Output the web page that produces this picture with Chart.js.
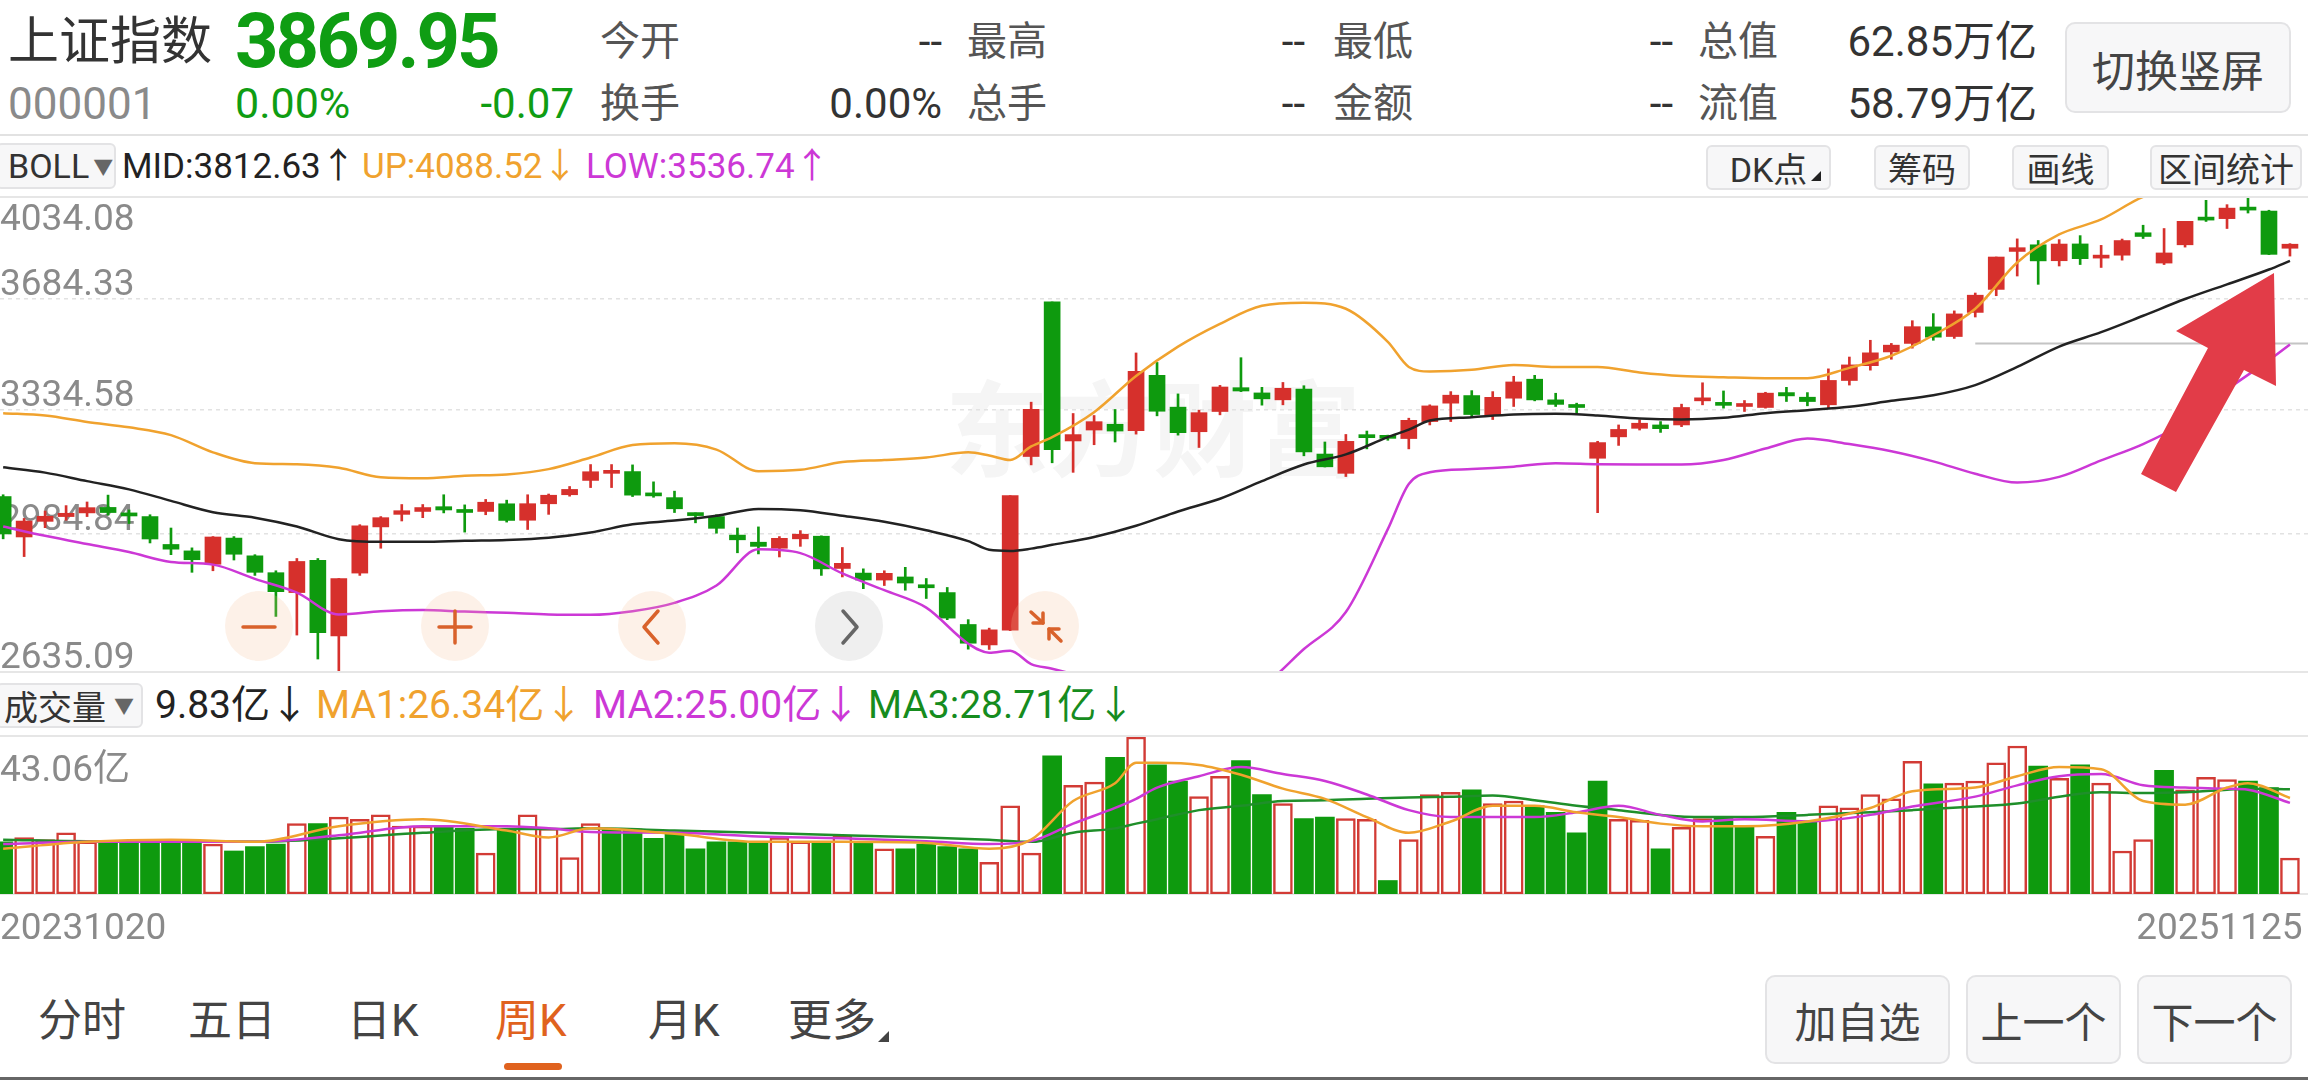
<!DOCTYPE html>
<html>
<head>
<meta charset="utf-8">
<script src="https://cdn.jsdelivr.net/npm/chart.js@4.4.1/dist/chart.umd.min.js"></script>
<style>
html,body{margin:0;padding:0;background:#fff;}
body{width:2308px;height:1080px;position:relative;overflow:hidden;
  font-family:Roboto,"Noto Sans CJK SC",sans-serif;color:#333;}
.t{position:absolute;white-space:nowrap;line-height:1;}
.lab{font-size:40px;color:#555;}
.val{font-size:42px;color:#333;}
.g{color:#0f9d13;}
.line{position:absolute;left:0;width:2308px;}
.btn{position:absolute;box-sizing:border-box;display:flex;align-items:center;justify-content:center;
  background:#f7f7f8;border:2px solid #e3e3e5;border-radius:8px;color:#333;white-space:nowrap;}
.tab{position:absolute;top:999px;font-size:44px;line-height:1;color:#444;white-space:nowrap;}
canvas{position:absolute;left:0;}
</style>
</head>
<body>

<!-- HEADER -->
<div class="t" style="left:8px;top:16px;font-size:51px;color:#333;">上证指数</div>
<div class="t g" style="left:235px;top:3px;font-size:76px;font-weight:bold;letter-spacing:-3px;">3869.95</div>

<div class="t lab" style="left:600px;top:22px;">今开</div>
<div class="t val" style="right:1366px;top:21px;">--</div>
<div class="t lab" style="left:967px;top:22px;">最高</div>
<div class="t val" style="right:1003px;top:21px;">--</div>
<div class="t lab" style="left:1333px;top:22px;">最低</div>
<div class="t val" style="right:635px;top:21px;">--</div>
<div class="t lab" style="left:1698px;top:22px;">总值</div>
<div class="t val" style="right:271px;top:21px;">62.85万亿</div>

<div class="t" style="left:8px;top:82px;font-size:44px;color:#8a8a8a;">000001</div>
<div class="t g" style="left:235px;top:82px;font-size:43px;">0.00%</div>
<div class="t g" style="right:1734px;top:83px;font-size:42px;">-0.07</div>
<div class="t lab" style="left:600px;top:84px;">换手</div>
<div class="t val" style="right:1366px;top:83px;">0.00%</div>
<div class="t lab" style="left:967px;top:84px;">总手</div>
<div class="t val" style="right:1003px;top:83px;">--</div>
<div class="t lab" style="left:1333px;top:84px;">金额</div>
<div class="t val" style="right:635px;top:83px;">--</div>
<div class="t lab" style="left:1698px;top:84px;">流值</div>
<div class="t val" style="right:271px;top:83px;">58.79万亿</div>

<div class="btn" style="left:2065px;top:22px;width:226px;height:91px;font-size:43px;color:#444;border-radius:10px;">切换竖屏</div>

<div class="line" style="top:134px;height:2px;background:#e2e2e2;"></div>

<!-- BOLL ROW -->
<div class="btn" style="left:-4px;top:143px;width:120px;height:46px;justify-content:flex-start;padding-left:10px;font-size:34px;border-radius:6px;">BOLL<span style="font-size:20px;color:#666;margin-left:4px;">▼</span></div>
<div class="t" style="left:122px;top:149px;font-size:35px;color:#222;">MID:3812.63↑</div>
<div class="t" style="left:362px;top:149px;font-size:35px;color:#f0a22e;">UP:4088.52↓</div>
<div class="t" style="left:586px;top:149px;font-size:35px;color:#cc38d6;">LOW:3536.74↑</div>

<div class="btn" style="left:1706px;top:145px;width:125px;height:45px;font-size:34px;border-radius:6px;">DK点
  <span style="position:absolute;right:8px;bottom:7px;width:0;height:0;border-left:10px solid transparent;border-bottom:10px solid #222;"></span></div>
<div class="btn" style="left:1874px;top:145px;width:96px;height:45px;font-size:34px;border-radius:6px;">筹码</div>
<div class="btn" style="left:2012px;top:145px;width:97px;height:45px;font-size:34px;border-radius:6px;">画线</div>
<div class="btn" style="left:2150px;top:145px;width:152px;height:45px;font-size:34px;border-radius:6px;">区间统计</div>

<div class="line" style="top:196px;height:2px;background:#e6e6e6;"></div>

<!-- WATERMARK -->
<div class="t" style="left:945px;top:382px;font-size:104px;font-weight:bold;color:#f5f5f5;">东方财富</div>

<canvas id="kline" width="2308" height="474" style="top:198px;"></canvas>
<div class="line" style="top:671px;height:2px;background:#e6e6e6;"></div>

<!-- VOLUME ROW -->
<div class="btn" style="left:-4px;top:683px;width:147px;height:45px;justify-content:flex-start;padding-left:6px;font-size:34px;border-radius:6px;">成交量<span style="font-size:20px;color:#666;margin-left:8px;">▼</span></div>
<div class="t" style="left:155px;top:686px;font-size:39px;color:#222;">9.83亿↓</div>
<div class="t" style="left:316px;top:686px;font-size:39px;color:#f0a22e;">MA1:26.34亿↓</div>
<div class="t" style="left:593px;top:686px;font-size:39px;color:#cc38d6;">MA2:25.00亿↓</div>
<div class="t" style="left:868px;top:686px;font-size:39px;color:#168c1e;">MA3:28.71亿↓</div>

<div class="line" style="top:735px;height:2px;background:#e6e6e6;"></div>
<canvas id="vol" width="2308" height="213" style="top:737px;"></canvas>

<!-- BOTTOM TABS -->
<div class="tab" style="left:38px;">分时</div>
<div class="tab" style="left:188px;">五日</div>
<div class="tab" style="left:347px;">日K</div>
<div class="tab" style="left:495px;color:#e0621e;">周K</div>
<div style="position:absolute;left:504px;top:1063px;width:58px;height:7px;border-radius:4px;background:#e0621e;"></div>
<div class="tab" style="left:648px;">月K</div>
<div class="tab" style="left:788px;">更多</div>
<div style="position:absolute;left:878px;top:1031px;width:0;height:0;border-left:11px solid transparent;border-bottom:11px solid #444;"></div>

<div class="btn" style="left:1765px;top:975px;width:185px;height:89px;font-size:42px;color:#444;border-radius:10px;">加自选</div>
<div class="btn" style="left:1966px;top:975px;width:155px;height:89px;font-size:42px;color:#444;border-radius:10px;">上一个</div>
<div class="btn" style="left:2137px;top:975px;width:155px;height:89px;font-size:42px;color:#444;border-radius:10px;">下一个</div>

<div class="line" style="top:1077px;height:3px;background:#666;"></div>

<!-- OVERLAY: ZOOM BUTTONS AND RED ARROW -->
<svg width="2308" height="1080" style="position:absolute;left:0;top:0;pointer-events:none;">
  <g fill="rgba(248,190,150,0.22)">
    <ellipse cx="259" cy="626" rx="34" ry="35"/>
    <ellipse cx="455" cy="626" rx="34" ry="35"/>
    <ellipse cx="652" cy="626" rx="34" ry="35"/>
    <ellipse cx="1045" cy="626" rx="34" ry="35"/>
  </g>
  <ellipse cx="849" cy="626" rx="34" ry="35" fill="rgba(190,190,190,0.25)"/>
  <g stroke="#d9622b" stroke-width="3.5" fill="none" stroke-linecap="round" stroke-linejoin="round">
    <line x1="243" y1="627" x2="275" y2="627"/>
    <line x1="439" y1="627" x2="471" y2="627"/>
    <line x1="455" y1="611" x2="455" y2="643"/>
    <polyline points="658,611 644,627 658,643"/>
    <line x1="1031" y1="612" x2="1043" y2="623"/>
    <polyline points="1033,623 1043,623 1043,613"/>
    <line x1="1061" y1="641" x2="1049" y2="629"/>
    <polyline points="1059,629 1049,629 1049,639"/>
  </g>
  <polyline points="843,611 857,627 843,643" stroke="#666" stroke-width="3.5" fill="none" stroke-linecap="round" stroke-linejoin="round"/>
  <polygon points="2274,273 2176,331 2208,348 2141,474 2176,492 2244,370 2276,386" fill="#e23c48"/>
</svg>

<script>

/* DATA */

const dateFirst = "20231020";
const dateLast = "20251125";

const priceTop = 4034.08;
const priceBottom = 2635.09;
const priceTicks = [3684.33, 3334.58, 2984.84, 2635.09];

const opens = [
3085,2975,3017,3030,3040,3055,3040,3030,2955,2938,
2903,2972,2925,2881,2830,2913,2722,2880,3002,3036,
3044,3057,3045,3044,3065,3020,3065,3090,3130,3150,
3155,3090,3082,3035,3030,2980,2961,2945,2970,2977,
2892,2880,2862,2870,2850,2830,2750,2700,2736,3198,
3674.40,3243,3275,3292,3273,3440,3343,3270,3330,3402,
3386,3365,3398,3205,3150,3256,3255,3250,3300,3355,
3378,3320,3370,3428,3365,3345,3193,3255,3280,3290,
3290,3362,3356,3345,3342,3387,3373,3350,3424,3470,
3513,3540,3593,3562,3640,3716,3845,3868,3813,3871,
3822,3832,3910,3805,3868,3958,3960,3995,3987,3856
];

const highs = [
3090,3025,3045,3060,3070,3089,3048,3035,2999,2946,
2976,2976,2928,2886,2918,2918,2866,3008,3030,3063,
3063,3090,3062,3077,3075,3090,3092,3113,3175,3175,
3174,3126,3100,3040,3035,2999,3002,2976,2992,2978,
2947,2891,2886,2895,2866,2843,2762,2741,3087.53,3358,
3674.40,3324,3318,3336,3509.82,3480,3383,3334,3409,3494.87,
3403,3418,3408,3240,3262,3272,3260,3310,3350,3390,
3393,3390,3437,3440,3385,3355,3242,3290,3305,3300,
3352,3417,3392,3363,3388,3403,3387,3460,3497,3550,
3540,3613,3636,3645,3704,3825.76,3888.6,3883,3886,3899.96,
3866,3888,3936.58,3925,3950.31,4025.70,4010,4034.08,3990,3872
];

const lows = [
2970,2923,3000,3020,3030,3034,3011,2959,2928,2882,
2886,2914,2874,2770,2724,2666,2635.09,2874,2945,3018,
3027,3040,2988,3035,3015,2995,3036,3086,3110,3110,
3085,3083,3041,3013,2985,2933,2930,2922,2950,2874,
2870,2840,2848,2836,2815,2762,2689.7,2689,2735,3174,
3180,3152.82,3232,3240,3263,3317,3260,3224,3320,3390,
3349,3350,3200,3168,3140.98,3220,3245,3220,3290,3300,
3315,3306,3345,3362,3345,3322,3040.69,3230,3275,3268,
3285,3350,3340,3330,3340,3360,3347,3340,3410,3456,
3490,3525,3550,3556,3625,3695,3761,3733,3795,3800,
3790,3815,3890,3800,3860,3950,3925,3980,3834,3829
];

const closes = [
2983.06,3017.78,3030.80,3038.97,3054.37,3040.97,3031.64,2969.56,2942.56,2914.78,
2974.93,2929.18,2881.98,2832.28,2910.22,2730.15,2865.90,3004.88,3027.02,3046.02,
3054.64,3048.03,3041.17,3069.30,3019.47,3065.26,3088.64,3104.82,3154.55,3154.03,
3088.87,3086.81,3051.28,3032.63,2998.14,2967.40,2949.93,2971.30,2982.31,2890.90,
2905.34,2862.19,2879.43,2854.37,2842.21,2765.81,2704.09,2736.81,3087.53,3336.50,
3217.74,3261.56,3299.70,3272.01,3452.30,3330.73,3267.19,3326.46,3404.08,3391.88,
3368.07,3400.14,3211.43,3168.52,3241.82,3252.63,3250.60,3303.67,3346.72,3379.11,
3320.90,3372.55,3419.56,3364.83,3351.31,3342.01,3238.23,3276.73,3295.06,3279.03,
3342.00,3367.46,3348.37,3347.49,3385.36,3377.00,3359.90,3424.23,3472.32,3510.18,
3534.48,3593.66,3559.95,3635.13,3696.77,3825.76,3857.93,3812.51,3870.60,3820.09,
3828.11,3882.78,3897.03,3839.76,3950.31,3954.79,3997.56,3990.49,3834.89,3870.02
];

/* BOLL at these weeks */
const bollIdx = [
0,2,4,6,8,10,12,14,16,18,20,22,24,26,28,30,32,34,36,38,40,42,44,46,
47,48,49,50,52,54,56,58,60,62,64,66,67,
68,70,72,74,76,78,80,82,84,86,88,90,92,94,96,98,100,102,104,106,108,109
];
const bollUp = [
3325,3318,3299,3283,3260,3210,3179,3176,3166,3139,3136,3143,3147,3162,3195,3231,3236,3218,3156,3160,3182,3188,3195,3210,
3201,3188,3227,3254,3328,3438,3530,3603,3662,3672,3652,3545,3466,
3452,3457,3472,3466,3466,3449,3438,3434,3431,3431,3463,3501,3566,3652,3807,3904,3957,4038,4080,4110,4100,4088.52
];
const bollMid = [
3167,3152,3128,3105,3073,3042,3027,3003,2969,2962,2962,2965,2967,2973,2987,3009,3019,3032,3051,3047,3032,3016,2993,2964,
2941,2938,2944,2954,2975,3005,3044,3079,3128,3175,3204,3254,3276,
3303,3313,3321,3323,3318,3309,3306,3311,3325,3334,3344,3362,3379,3410,3466,3530,3576,3629,3684,3733,3783,3812.63
];
const bollLow = [
3003,2978,2956,2935,2909,2902,2865,2830,2775,2783,2786,2782,2779,2775,2774,2783,2804,2848,2942,2932,2879,2836,2792,2703,
2681,2686,2654,2643,2616,2584,2558,2556,2600,2690,2781,2996,3120,
3153,3162,3169,3179,3176,3175,3175,3188,3221,3250,3234,3213,3184,3149,3124,3140,3187,3234,3298,3396,3487,3536.74
];

/* USER DRAWN HORIZONTAL LINE */
const drawnIdx = [94, 110];
const drawnVal = [3540, 3540];

/* VOLUME (亿) */
const volTop = 43.06;
const volumes = [
14.3,15.5,14.9,16.8,14.3,14.6,14.0,14.3,14.3,14.6,
13.7,11.8,13.0,13.7,19.3,19.3,21.1,20.5,21.7,18.6,
18.6,18.6,18.0,11.2,18.0,21.7,18.0,10.0,19.3,18.0,
17.8,15.3,17.0,12.4,14.3,14.3,14.3,15.5,14.3,14.3,
16.1,14.3,12.4,12.4,13.7,13.0,12.4,8.7,24.2,11.2,
37.9,29.8,30.7,37.5,43.06,35.4,31.0,26.7,32.3,36.6,
27.3,24.8,20.7,21.1,20.7,20.5,3.7,14.9,27.3,27.9,
28.6,24.8,25.5,24.2,22.4,16.8,31.0,20.5,20.2,12.4,
18.3,20.7,21.1,18.3,15.8,22.4,19.9,24.2,23.6,27.3,
26.1,36.4,30.2,30.4,31.0,36.0,40.6,35.1,31.7,35.4,
30.4,11.8,14.9,33.9,28.6,32.0,31.4,31.0,29.2,9.83
];
const volUp = [
0,1,1,1,1,0,0,0,0,0, 1,0,0,0,1,0,1,1,1,1,
1,0,0,1,0,1,1,1,1,0, 0,0,0,0,0,0,0,1,1,0,
1,0,1,0,0,0,0,1,1,1, 0,1,1,0,1,0,0,1,1,0,
0,1,0,0,1,1,0,1,1,1, 0,1,1,0,0,0,0,1,1,0,
1,1,0,0,1,0,0,1,1,1, 1,1,0,1,1,1,1,0,1,0,
1,1,1,0,1,1,1,0,0,1
];

/* VOLUME MA */
const maIdx = [0,4,8,12,16,20,24,26,28,32,36,40,44,47,49,51,53,54,55,57,59,61,63,65,67,69,71,73,75,77,79,81,83,86,89,91,94,96,98,100,102,104,106,107,109];
const ma1 = [12.4,14.3,14.9,14.3,18.6,20.5,17.4,15.5,18.0,16.5,14.3,14.3,14.0,12.4,14.9,25.5,30.4,36.0,36.0,35.4,32.7,28.9,26.1,21.1,16.8,19.9,24.2,24.2,22.4,21.1,19.3,18.6,18.6,19.9,23.6,28.2,29.2,32.3,34.8,34.2,25.5,24.5,29.2,30.4,26.34];
const ma2 = [13.7,14.3,14.3,14.3,16.1,18.6,18.6,18.0,17.0,16.8,15.8,15.3,14.5,13.7,14.5,19.3,23.6,26.1,29.2,32.3,34.8,32.9,31.0,27.3,23.0,21.1,21.1,21.1,22.4,24.2,21.7,19.9,20.5,19.9,21.7,24.0,26.7,29.8,32.3,32.9,29.8,29.2,28.9,28.6,25.00];
const ma3 = [14.9,14.5,14.5,14.3,15.3,16.8,17.8,17.8,18.0,17.4,16.8,16.1,15.5,14.9,14.3,16.8,18.0,19.3,20.5,23.0,24.2,25.5,25.7,26.1,26.5,26.7,27.0,25.7,24.2,23.0,21.7,21.1,21.1,21.7,22.4,23.0,24.0,24.8,26.7,27.9,27.7,27.9,28.6,28.9,28.71];

/* STYLE */

const RED = "#d6302c";
const GREEN = "#0e9a0e";
const ORANGE = "#f0a22e";
const MAGENTA = "#cc38d6";
const xMin = -0.15;
const xMax = 109.86;

Chart.defaults.font.family = "Roboto";

function pts(idx, vals){
    return vals.map((v, k) => ({x: idx[k], y: v}));
}

function lineSet(data, color, order){
    return {
        type: "line",
        data: data,
        borderColor: color,
        borderWidth: 2.5,
        pointRadius: 0,
        cubicInterpolationMode: "monotone",
        order: order
    };
}

/* axes sit inside the plot: no width, no label padding */
function flatY(s){
    s.width = 0;
    s.paddingTop = 0;
    s.paddingBottom = 0;
}

function flatX(s){
    s.paddingLeft = 0;
    s.paddingRight = 0;
}

const priceFont = { family: "Roboto", size: 37 };
const candleColors = opens.map((o, i) => closes[i] >= o ? RED : GREEN);

/* K LINE */

new Chart(document.getElementById("kline"), {
    type: "bar",
    data: {
        datasets: [
            lineSet(pts(bollIdx, bollUp), ORANGE, 0),
            lineSet(pts(bollIdx, bollMid), "#222222", 0),
            lineSet(pts(bollIdx, bollLow), MAGENTA, 0),
            {
                type: "line",
                data: pts(drawnIdx, drawnVal),
                borderColor: "#c4c4c4",
                borderWidth: 2,
                pointRadius: 0,
                order: 3
            },
            {
                data: opens.map((o, i) => ({x: i, y: [o, closes[i]]})),
                backgroundColor: candleColors,
                barThickness: 16,
                minBarLength: 3,
                grouped: false,
                order: 1
            },
            {
                data: lows.map((l, i) => ({x: i, y: [l, highs[i]]})),
                backgroundColor: candleColors,
                barThickness: 2,
                grouped: false,
                order: 2
            }
        ]
    },
    options: {
        responsive: false,
        animation: false,
        devicePixelRatio: 1,
        layout: { padding: 0 },
        plugins: {
            legend: { display: false },
            tooltip: { enabled: false }
        },
        scales: {
            x: { type: "linear", min: xMin, max: xMax, offset: false, display: false },
            y: {
                type: "logarithmic",
                position: "left",
                min: priceBottom,
                max: priceTop,
                afterBuildTicks: s => { s.ticks = priceTicks.map(v => ({value: v})); },
                afterFit: flatY,
                grid: {
                    color: ctx => ctx.tick && ctx.tick.value < 2700 ? "rgba(0,0,0,0)" : "#e2e2e2",
                    lineWidth: 1.5,
                    drawTicks: false,
                    borderDash: [4, 4]
                },
                border: { display: false, dash: [4, 4] },
                ticks: {
                    mirror: true,
                    padding: 0,
                    autoSkip: false,
                    labelOffset: -13,
                    color: "#8a8a8a",
                    font: priceFont,
                    callback: v => Number(v).toFixed(2)
                }
            },
            y2: {
                type: "logarithmic",
                position: "left",
                min: priceBottom,
                max: priceTop,
                afterBuildTicks: s => { s.ticks = [{value: priceTop}]; },
                afterFit: flatY,
                grid: { display: false, drawTicks: false },
                border: { display: false },
                ticks: {
                    mirror: true,
                    padding: 0,
                    labelOffset: 23,
                    color: "#8a8a8a",
                    font: priceFont,
                    callback: v => Number(v).toFixed(2)
                }
            }
        }
    }
});

/* VOLUME */

new Chart(document.getElementById("vol"), {
    type: "bar",
    data: {
        datasets: [
            lineSet(pts(maIdx, ma1), ORANGE, 0),
            lineSet(pts(maIdx, ma2), MAGENTA, 0),
            lineSet(pts(maIdx, ma3), "#1f8f2a", 0),
            {
                data: volumes.map((v, i) => ({x: i, y: v})),
                backgroundColor: volUp.map(u => u ? "#ffffff" : GREEN),
                borderColor: volUp.map(u => u ? "#d23b35" : GREEN),
                borderWidth: volUp.map(u => u ? 2.5 : 0),
                borderSkipped: false,
                barThickness: 19,
                grouped: false,
                order: 1
            }
        ]
    },
    options: {
        responsive: false,
        animation: false,
        devicePixelRatio: 1,
        layout: { padding: 0 },
        plugins: {
            legend: { display: false },
            tooltip: { enabled: false }
        },
        scales: {
            x: {
                type: "linear",
                min: xMin,
                max: xMax,
                offset: false,
                afterBuildTicks: s => { s.ticks = [{value: xMin}, {value: 109.6}]; },
                afterFit: s => { flatX(s); s.height = 56; },
                grid: { display: false, drawTicks: false },
                border: { display: true, color: "#e6e6e6", width: 2 },
                ticks: {
                    autoSkip: false,
                    maxRotation: 0,
                    minRotation: 0,
                    align: "inner",
                    padding: 14,
                    color: "#8a8a8a",
                    font: { family: "Roboto", size: 37 },
                    callback: (v, i) => i === 0 ? dateFirst : dateLast
                }
            },
            y: {
                min: 0,
                max: volTop,
                afterBuildTicks: s => { s.ticks = [{value: volTop}]; },
                afterFit: flatY,
                grid: { display: false, drawTicks: false },
                border: { display: false },
                ticks: {
                    mirror: true,
                    padding: 0,
                    labelOffset: 35,
                    color: "#8a8a8a",
                    font: { family: 'Roboto, "Noto Sans CJK SC"', size: 37 },
                    callback: v => volTop.toFixed(2) + "亿"
                }
            }
        }
    }
});

</script>
</body>
</html>
